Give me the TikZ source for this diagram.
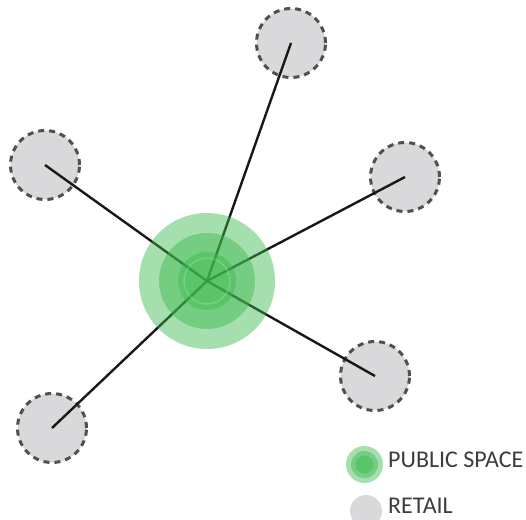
\documentclass[tikz,border=0pt]{standalone}
\usepackage{fontspec}
\setmainfont{Carlito}
\definecolor{pgreen}{RGB}{58,184,76}
\definecolor{rgray}{RGB}{217,217,219}
\definecolor{dashgray}{RGB}{80,80,80}
\definecolor{txtgray}{RGB}{60,60,60}
\definecolor{linecol}{RGB}{28,22,24}
\tikzset{
  retail/.style={circle, fill=rgray, draw=dashgray, line width=3pt, dash pattern=on 6pt off 5pt, minimum size=69pt, inner sep=0pt},
  greenlayer/.style={fill=pgreen, fill opacity=0.45, draw=none},
  link/.style={draw=linecol, line width=2.4pt},
  legendtxt/.style={anchor=base west, text=txtgray, font=\fontsize{24}{26}\selectfont, inner sep=0pt},
  retailleg/.style={circle, fill=rgray, draw=none, minimum size=32pt, inner sep=0pt}
}
\begin{document}
\begin{tikzpicture}[x=1pt,y=-1pt]
\useasboundingbox (0,0) rectangle (526,519);
% satellites
\node[retail] (r1) at (291,43) {};
\node[retail] (r2) at (45,165) {};
\node[retail] (r3) at (405,177) {};
\node[retail] (r4) at (375,376) {};
\node[retail] (r5) at (52,428) {};
\coordinate (ps) at (207,281);
% links
\foreach \r in {r1,r2,r3,r4,r5} \draw[link] (ps) -- (\r.center);
% public space rings
\fill[greenlayer] (ps) circle (68);
\fill[greenlayer] (ps) circle (48);
\fill[greenlayer] (ps) circle (29);
\draw[white, opacity=0.18, line width=1.5pt] (ps) circle (23);
% legend
\coordinate (lg) at (364.5,464.5);
\fill[greenlayer] (lg) circle (18.5);
\fill[greenlayer] (lg) circle (13.5);
\fill[greenlayer] (lg) circle (9);
\node[legendtxt] (t1) at (388,467.5) {PUBLIC SPACE};
\node[retailleg] (lr) at (366,511) {};
\node[legendtxt] (t2) at (388,513) {RETAIL};
\end{tikzpicture}
\end{document}
